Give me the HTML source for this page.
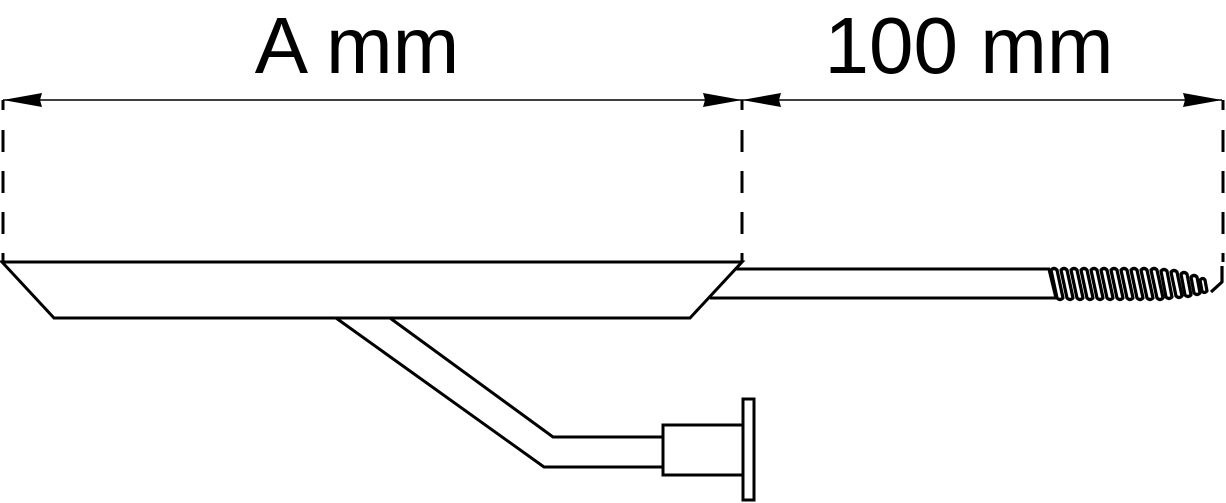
<!DOCTYPE html>
<html><head><meta charset="utf-8"><style>
html,body{margin:0;padding:0;background:#fff;}
svg{display:block;}
</style></head><body>
<svg width="1226" height="503" viewBox="0 0 1226 503" xmlns="http://www.w3.org/2000/svg">
<g font-family="Liberation Sans, sans-serif" font-size="80" fill="#000" text-anchor="middle">
<text x="357" y="73">A mm</text>
<text x="969" y="73">100 mm</text>
</g>
<g stroke="#000" fill="none">
<line x1="3" y1="100" x2="1222" y2="100" stroke-width="1.5"/>
<g stroke-width="3" stroke-dasharray="10,20,22,19,22,19,22,19,22,19">
<line x1="3" y1="100" x2="3" y2="262"/>
<line x1="742" y1="100" x2="742" y2="262"/>
<line x1="1223" y1="100" x2="1223" y2="262"/>
</g>
</g>
<g fill="#000">
<path d="M3,100 L42,93 L40,100 L42,107 Z"/>
<path d="M742,100 L703,93 L705,100 L703,107 Z"/>
<path d="M742,100 L781,93 L779,100 L781,107 Z"/>
<path d="M1222,100 L1183,93 L1185,100 L1183,107 Z"/>
</g>
<g stroke="#000" stroke-width="3" fill="none" stroke-linejoin="miter">
<path d="M2,262 L742,262 L690,318 L54,318 Z"/>
<path d="M736,269 L1050,269"/>
<path d="M710,298 L1056,298"/>
<path d="M336,318 L544,467 L663,467"/>
<path d="M390,318 L553,437 L663,437"/>
<rect x="663" y="425" width="80" height="50"/>
<rect x="743" y="399" width="11" height="101"/>
</g>
<g stroke="#000" stroke-width="3.2" fill="#fff" stroke-linejoin="round">
<path d="M1049,269 L1056,298"/>
<path d="M1051,270 q3,-3 6,0 l6,28 q-3,3 -6,0 z"/>
<path d="M1061,270 q3,-3 6,0 l6,28 q-3,3 -6,0 z"/>
<path d="M1071,270 q3,-3 6,0 l6,28 q-3,3 -6,0 z"/>
<path d="M1081,270 q3,-3 6,0 l6,28 q-3,3 -6,0 z"/>
<path d="M1091,270 q3,-3 6,0 l6,28 q-3,3 -6,0 z"/>
<path d="M1101,270 q3,-3 6,0 l6,28 q-3,3 -6,0 z"/>
<path d="M1111,270 q3,-3 6,0 l6,28 q-3,3 -6,0 z"/>
<path d="M1121,270 q3,-3 6,0 l6,28 q-3,3 -6,0 z"/>
<path d="M1131,270 q3,-3 6,0 l6,28 q-3,3 -6,0 z"/>
<path d="M1141,270 q3,-3 6,0 l6,28 q-3,3 -6,0 z"/>
<path d="M1151,270 q3,-3 6,0 l6,28 q-3,3 -6,0 z"/>
<path d="M1161,271 q3,-3 6,0 l5,26 q-3,3 -6,0 z"/>
<path d="M1171,272 q3,-3 6,0 l5,24 q-3,3 -6,0 z"/>
<path d="M1181,274 q3,-3 6,0 l4,21 q-3,3 -6,0 z"/>
<path d="M1191,277 q3,-3 6,0 l3,16 q-3,3 -6,0 z"/>
<path d="M1200,280 q3,-3 5,0 l2,11 q-3,3 -5,0 z"/>
<path d="M1222,266 L1222,282 L1211,292" fill="none"/>
</g>
</svg>
</body></html>
